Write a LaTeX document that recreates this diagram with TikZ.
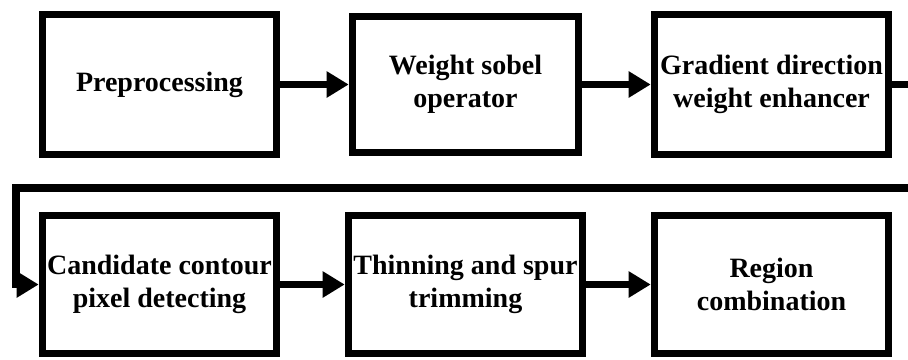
\documentclass[tikz,border=0pt]{standalone}
\usepackage{fontspec}
\setmainfont{Liberation Serif}
\usetikzlibrary{positioning,arrows.meta}

\begin{document}
\begin{tikzpicture}[
process/.style={rectangle, draw=black, line width=3.8pt, minimum width=117pt, minimum height=70pt, align=center, inner sep=1pt, font=\bfseries\fontsize{14pt}{16.5pt}\selectfont},
flow/.style={line width=3.8pt, -{Triangle[length=11pt, width=12.5pt]}},
node distance=100pt and 153pt, on grid,
]
\useasboundingbox (0,0) rectangle (454pt,-179.5pt);
\node (pre) [process] at (79.75pt,-42.25pt) {Preprocessing};
\node (sobel) [process, right=of pre, minimum width=113pt, minimum height=68pt] {Weight sobel\\operator};
\node (gde) [process, right=of sobel] {Gradient direction\\weight enhancer};
\node (cand) [process, below=of pre, minimum height=69pt] {Candidate contour\\pixel detecting};
\node (thin) [process, right=of cand, minimum height=69pt] {Thinning and spur\\trimming};
\node (reg) [process, right=of thin, minimum height=69pt] {Region\\combination};
% feedback line, partly outside the page
\coordinate (rightout) at (470pt,-94pt);
\coordinate (leftturn) at (8pt,-94pt);
\draw[flow] (pre) -- (sobel);
\draw[flow] (sobel) -- (gde);
\draw[flow] (gde.east) -| (rightout) -- (leftturn) |- (cand.west);
\draw[flow] (cand) -- (thin);
\draw[flow] (thin) -- (reg);
\end{tikzpicture}
\end{document}
